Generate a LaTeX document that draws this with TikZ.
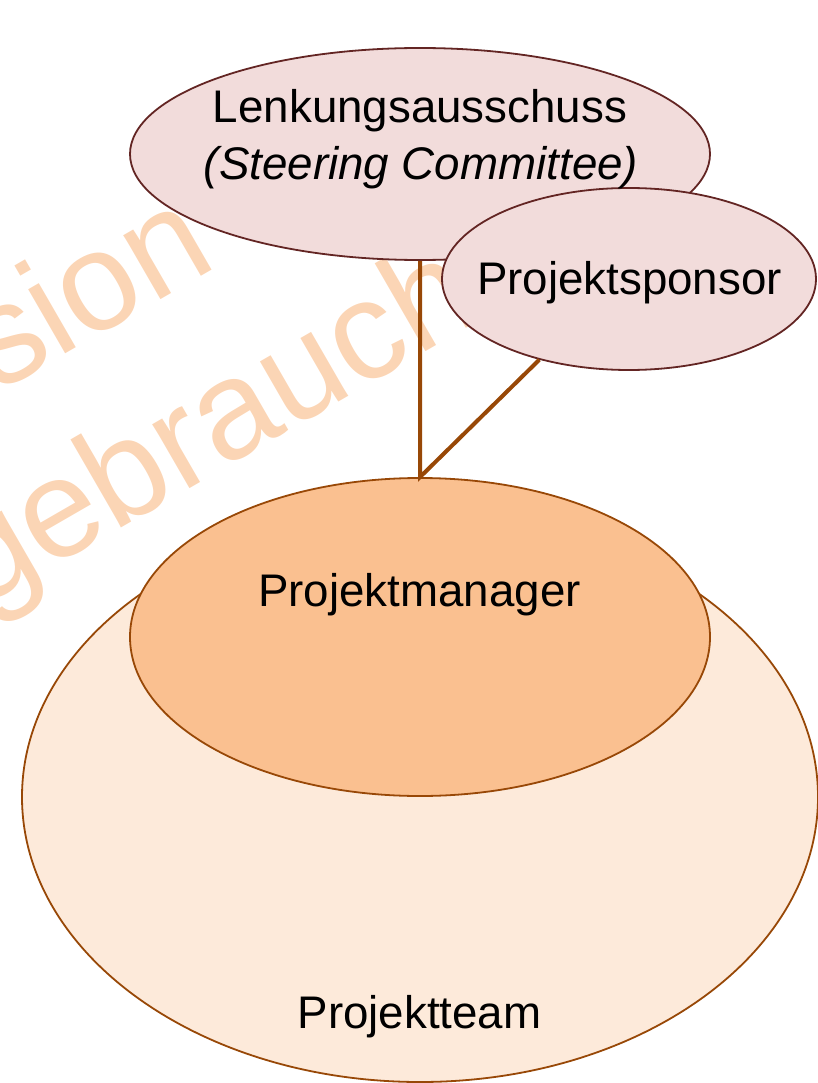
\documentclass[tikz,border=0pt]{standalone}
\usepackage{fontspec}
\setmainfont{Liberation Sans}
\usetikzlibrary{shapes.geometric}
\definecolor{steerfill}{HTML}{F2DCDB}
\definecolor{steerdraw}{HTML}{632523}
\definecolor{pmfill}{HTML}{FAC090}
\definecolor{brownline}{HTML}{984807}
\definecolor{teamfill}{HTML}{FDEADA}
\definecolor{wmark}{HTML}{FBD5B5}
\tikzset{
  oval/.style={ellipse, inner sep=0pt, line width=1.8pt},
  redoval/.style={oval, draw=steerdraw, fill=steerfill},
  brownoval/.style={oval, draw=brownline},
  label text/.style={anchor=base, inner sep=0pt, font=\fontsize{45.7}{55}\selectfont, text=black},
  wm text/.style={anchor=base west, inner sep=0pt, rotate=30, font=\fontsize{140}{160}\selectfont, text=wmark},
  link/.style={draw=brownline, line width=4pt}
}
\begin{document}
\begin{tikzpicture}[x=1pt, y=-1pt]
\useasboundingbox (0,0) rectangle (817,1083);
% watermark
\node[wm text] (wm1) at (-3,394) {sion};
\node[wm text] (wm2) at (-21,610) {gebrauch};
% ellipses
\node[brownoval, fill=teamfill, minimum width=796pt, minimum height=570pt] (team) at (420,797) {};
\node[brownoval, fill=pmfill, minimum width=580pt, minimum height=318pt] (pm) at (420,637) {};
\node[redoval, minimum width=580pt, minimum height=212pt] (steer) at (420,154) {};
\node[redoval, minimum width=374pt, minimum height=182pt] (sponsor) at (629,279) {};
% connectors
\draw[link] (steer.south) -- (pm.north) -- (sponsor.222);
% texts
\node[label text] (tsteer1) at (420,123) {Lenkungsausschuss};
\node[label text] (tsteer2) at (421,180) {\itshape (Steering Committee)};
\node[label text] (tsponsor) at (629.5,294) {Projektsponsor};
\node[label text] (tpm) at (419.5,606) {Projektmanager};
\node[label text] (tteam) at (419.5,1028) {Projektteam};
\end{tikzpicture}
\end{document}
